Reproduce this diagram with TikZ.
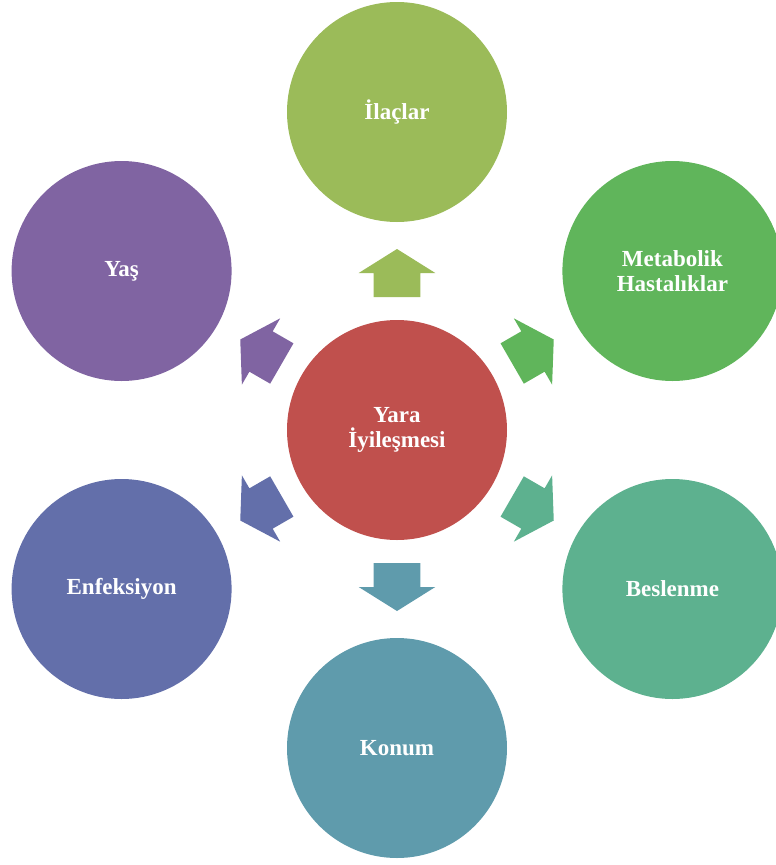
\documentclass[tikz,border=0pt]{standalone}
\usepackage{fontspec}
\setmainfont{Liberation Serif}
\usetikzlibrary{calc}
\definecolor{cCenter}{RGB}{192,80,77}
\definecolor{cTop}{RGB}{155,187,89}
\definecolor{cMet}{RGB}{96,181,91}
\definecolor{cBes}{RGB}{93,177,143}
\definecolor{cKon}{RGB}{95,155,172}
\definecolor{cEnf}{RGB}{99,111,170}
\definecolor{cYas}{RGB}{128,100,162}
\tikzset{
  bubble/.style={circle, minimum size=220pt, inner sep=0pt, draw=none, text=white,
    font=\fontsize{23}{25}\selectfont\bfseries, align=center},
}
\newcommand{\blockarrow}[2]{%
  \begin{scope}[shift={(ctr)}, rotate=#1]
    \fill[#2] (133,-23.3) -- (157,-23.3) -- (157,-38.3) -- (181,0) -- (157,38.3) -- (157,23.3) -- (133,23.3) -- cycle;
  \end{scope}}
\begin{document}
\begin{tikzpicture}[x=1pt,y=1pt]
\useasboundingbox (0,-865) rectangle (776,0);
\coordinate (ctr) at (397,-430);
\node[bubble, fill=cCenter] (center) at (ctr) {Yara\\İyileşmesi};
\node[bubble, fill=cTop] (ilac) at ($(ctr)+(90:318)$) {İlaçlar};
\node[bubble, fill=cMet] (met) at ($(ctr)+(30:318)$) {Metabolik\\Hastalıklar};
\node[bubble, fill=cBes] (bes) at ($(ctr)+(-30:318)$) {Beslenme};
\node[bubble, fill=cKon] (kon) at ($(ctr)+(-90:318)$) {Konum};
\node[bubble, fill=cEnf] (enf) at ($(ctr)+(-150:318)$) {Enfeksiyon};
\node[bubble, fill=cYas] (yas) at ($(ctr)+(150:318)$) {Yaş};
\blockarrow{90}{cTop}
\blockarrow{30}{cMet}
\blockarrow{-30}{cBes}
\blockarrow{-90}{cKon}
\blockarrow{-150}{cEnf}
\blockarrow{150}{cYas}
\end{tikzpicture}
\end{document}
